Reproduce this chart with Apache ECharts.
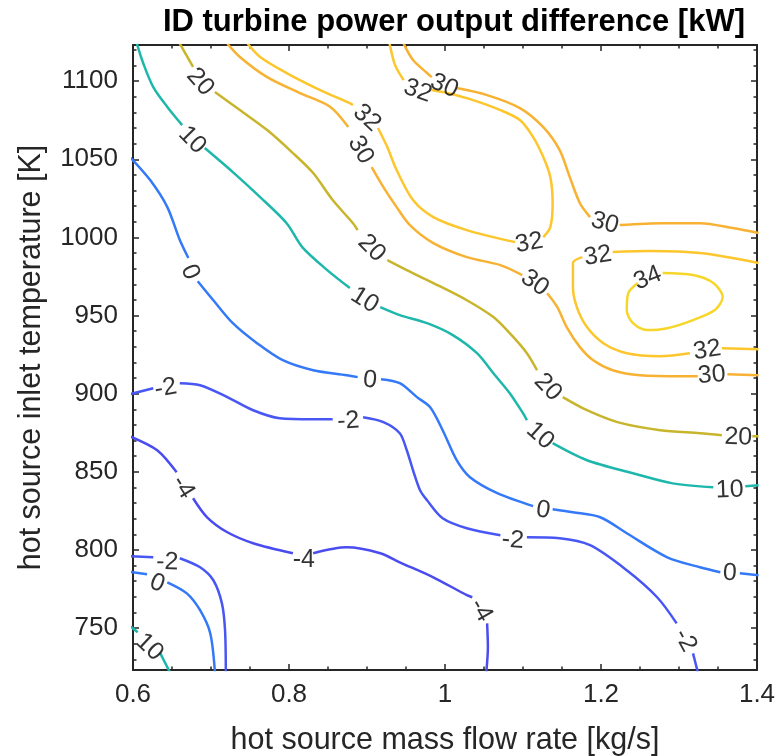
<!DOCTYPE html>
<html>
<head>
<meta charset="utf-8">
<script src="https://cdn.jsdelivr.net/npm/echarts@6/dist/echarts.min.js"></script>
<style>
  html, body { margin: 0; padding: 0; background: #ffffff; }
  #chart { width: 781px; height: 756px; }
</style>
</head>
<body>
<div id="chart"></div>
<script>
// Axis ticks
const xTicks = [0.6, 0.8, 1.0, 1.2, 1.4];
const xTickLabels = ['0.6', '0.8', '1', '1.2', '1.4'];
const yTicks = [750, 800, 850, 900, 950, 1000, 1050, 1100];
const yTickLabels = ['750', '800', '850', '900', '950', '1000', '1050', '1100'];
const yRange = [723.15, 1123.15];

// Contour lines [mass flow kg/s, temperature K]; each line is split into
// pieces, and a label sits in every gap between consecutive pieces.
const c10Upper = [
  [[0.605, 1124], [0.613, 1111.6], [0.626, 1096.2], [0.644, 1083.5], [0.663, 1071.9]],
  [[0.692, 1057.2], [0.728, 1041.8], [0.763, 1025.8], [0.797, 1009.1], [0.817, 993.8], [0.849, 979.1], [0.878, 967.6]],
  [[0.917, 955.4], [0.942, 950.3], [0.977, 945.1], [1.010, 937.5], [1.041, 925.9], [1.062, 913.1], [1.083, 900.3], [1.100, 887.5], [1.105, 883.0]],
  [[1.138, 868.3], [1.182, 857.4], [1.241, 849.1], [1.292, 842.6], [1.344, 840.1]],
  [[1.385, 840.8], [1.402, 841.4]]
];
const c10UpperLabels = [[0.676, 1062.3], [0.897, 959.8], [1.122, 873.0], [1.365, 838.2]];

const c20 = [
  [[0.660, 1124], [0.677, 1109.1]],
  [[0.705, 1093.1], [0.737, 1081.5], [0.772, 1068.7], [0.805, 1054.0], [0.831, 1041.2], [0.856, 1023.9], [0.882, 1009.1], [0.888, 1004.7]],
  [[0.926, 985.5], [0.951, 979.1], [0.985, 970.8], [1.028, 959.8], [1.062, 949.0], [1.083, 938.7], [1.105, 925.9], [1.118, 915.0]],
  [[1.151, 897.8], [1.182, 889.4], [1.221, 881.8], [1.276, 876.6], [1.327, 874.7], [1.355, 873.4]],
  [[1.394, 872.8], [1.402, 872.8]]
];
const c20Labels = [[0.686, 1099.5], [0.906, 993.1], [1.132, 904.1], [1.376, 872.1]];

const c30Lower = [
  [[0.721, 1124], [0.737, 1115.5], [0.772, 1102.6], [0.814, 1092.4], [0.853, 1083.5], [0.876, 1070.6]],
  [[0.906, 1045.0], [0.921, 1032.2], [0.938, 1019.4], [0.955, 1007.9], [0.985, 996.4], [1.028, 987.4], [1.071, 982.3], [1.099, 975.9]],
  [[1.131, 964.3], [1.144, 955.4], [1.156, 942.6], [1.173, 929.8], [1.190, 921.4], [1.215, 915.0], [1.250, 911.8], [1.305, 911.2], [1.324, 911.2]],
  [[1.362, 912.5], [1.402, 911.8]]
];
const c30LowerLabels = [[0.892, 1055.9], [1.115, 970.8], [1.342, 911.8]];

const c32Upper = [
  [[0.747, 1124], [0.763, 1115.5], [0.797, 1105.2], [0.840, 1094.3], [0.878, 1086.0], [0.882, 1084.7]],
  [[0.914, 1070.0], [0.926, 1057.8], [0.938, 1043.1], [0.959, 1023.9], [0.985, 1013.0], [1.028, 1004.7], [1.090, 997.0]],
  [[1.126, 1000.2], [1.135, 1006.6], [1.138, 1021.9], [1.135, 1038.6], [1.126, 1051.4], [1.113, 1064.2], [1.096, 1075.1], [1.071, 1081.5], [1.036, 1087.9], [1.003, 1092.4], [0.983, 1094.3]],
  [[0.947, 1100.7], [0.936, 1110.3], [0.929, 1124]]
];
const c32UpperLabels = [[0.900, 1076.4], [1.108, 996.4], [0.965, 1093.7]];

const c30Upper = [
  [[0.947, 1124], [0.959, 1113.5], [0.977, 1105.2], [0.983, 1102.6]],
  [[1.015, 1095.6], [1.054, 1091.1], [1.096, 1082.8], [1.126, 1070.6], [1.147, 1055.9], [1.160, 1038.6], [1.173, 1021.9], [1.186, 1013.0]],
  [[1.224, 1007.9], [1.279, 1009.1], [1.327, 1009.1], [1.369, 1006.0], [1.402, 1002.8]]
];
const c30UpperLabels = [[0.999, 1096.9], [1.205, 1009.1]];

const c32Right = [
  [[1.402, 983.6], [1.327, 990.0], [1.263, 991.3], [1.215, 990.6]],
  [[1.176, 987.4], [1.164, 983.6], [1.164, 968.2], [1.169, 955.4], [1.182, 942.6], [1.203, 932.3], [1.233, 925.9], [1.276, 924.0], [1.314, 925.9]],
  [[1.355, 929.1], [1.402, 928.5]]
];
const c32RightLabels = [[1.196, 988.1], [1.336, 927.8]];

// closed loop: its label sits between the last and the first point
const c34 = [
  [[1.279, 977.2], [1.318, 975.9], [1.344, 970.8], [1.356, 961.8], [1.346, 953.5], [1.318, 947.1], [1.285, 941.9], [1.259, 940.7], [1.241, 945.1], [1.233, 953.5], [1.235, 964.3], [1.247, 970.8]]
];
const c34Labels = [[1.260, 973.9]];

const c0Upper = [
  [[0.597, 1051.0], [0.622, 1036.7], [0.644, 1019.4], [0.660, 998.3], [0.671, 986.8]],
  [[0.683, 972.0], [0.703, 959.8], [0.728, 945.1], [0.759, 932.3], [0.792, 921.4], [0.831, 915.0], [0.874, 911.8], [0.888, 910.6]],
  [[0.918, 909.3], [0.942, 906.7], [0.964, 897.8], [0.981, 891.3], [0.997, 876.6], [1.015, 857.4], [1.032, 846.5], [1.067, 836.3], [1.113, 828.0]],
  [[1.138, 826.0], [1.164, 824.1], [1.199, 820.9], [1.233, 810.7], [1.285, 795.3], [1.327, 788.9], [1.353, 785.7]],
  [[1.378, 785.1], [1.402, 783.8]]
];
const c0UpperLabels = [[0.673, 977.8], [0.904, 908.6], [1.126, 825.4], [1.365, 785.1]];

const cM2Upper = [
  [[0.597, 899.8], [0.626, 903.5]],
  [[0.660, 906.7], [0.686, 905.4], [0.721, 897.8], [0.754, 889.4], [0.788, 884.3], [0.831, 883.6], [0.856, 883.6]],
  [[0.895, 884.9], [0.921, 881.8], [0.942, 874.7], [0.951, 863.8], [0.959, 851.0], [0.968, 838.2], [0.977, 831.8], [0.997, 820.3], [1.028, 813.9], [1.071, 809.4]],
  [[1.105, 808.1], [1.147, 807.5], [1.186, 803.0], [1.233, 787.0], [1.272, 769.7], [1.297, 753.0]],
  [[1.318, 733.8], [1.324, 722]]
];
const cM2UpperLabels = [[0.642, 903.5], [0.876, 882.4], [1.087, 806.2], [1.308, 742.1]];

const cM4 = [
  [[0.597, 872.5], [0.631, 863.8], [0.656, 849.7]],
  [[0.677, 833.1], [0.695, 820.9], [0.721, 811.3], [0.754, 804.3], [0.805, 797.9]],
  [[0.831, 797.9], [0.874, 801.7], [0.917, 797.9], [0.942, 792.1], [0.985, 782.5], [1.028, 771.0], [1.035, 769.7]],
  [[1.054, 753.0], [1.055, 737.7], [1.053, 722]]
];
const cM4Labels = [[0.664, 840.1], [0.819, 793.4], [1.046, 761.4]];

const cM2Lower = [
  [[0.597, 796.0], [0.626, 795.3]],
  [[0.660, 794.7], [0.686, 788.9], [0.703, 780.6], [0.714, 765.8], [0.718, 748.6], [0.719, 722]]
];
const cM2LowerLabels = [[0.644, 792.1]];

const c0Lower = [
  [[0.597, 785.9], [0.618, 784.4]],
  [[0.644, 779.3], [0.669, 772.2], [0.686, 761.4], [0.699, 746.7], [0.705, 722]]
];
const c0LowerLabels = [[0.631, 778.6]];

const c10Lower = [
  [[0.597, 751.0], [0.606, 747.3]],
  [[0.635, 733.8], [0.647, 722]]
];
const c10LowerLabels = [[0.621, 737.7]];

// Line colour for each level
const levelColor = {
  '-4': '#4a4cef',
  '-2': '#4857f4',
  '0': '#3479f8',
  '10': '#1eb7ab',
  '20': '#c8b52c',
  '30': '#f8b233',
  '32': '#fcc62c',
  '34': '#f7d62a'
};

const contours = [
  { level: 10, pieces: c10Upper, labels: c10UpperLabels },
  { level: 20, pieces: c20, labels: c20Labels },
  { level: 30, pieces: c30Lower, labels: c30LowerLabels },
  { level: 32, pieces: c32Upper, labels: c32UpperLabels },
  { level: 30, pieces: c30Upper, labels: c30UpperLabels },
  { level: 32, pieces: c32Right, labels: c32RightLabels },
  { level: 34, pieces: c34, labels: c34Labels },
  { level: 0, pieces: c0Upper, labels: c0UpperLabels },
  { level: -2, pieces: cM2Upper, labels: cM2UpperLabels },
  { level: -4, pieces: cM4, labels: cM4Labels },
  { level: -2, pieces: cM2Lower, labels: cM2LowerLabels },
  { level: 0, pieces: c0Lower, labels: c0LowerLabels },
  { level: 10, pieces: c10Lower, labels: c10LowerLabels }
];

const FONT = '"Liberation Sans", Arial, Helvetica, sans-serif';
const AXIS_COLOR = '#262626';

function tickText(ticks, labels) {
  return function (v) {
    for (let i = 0; i < ticks.length; i++) {
      if (Math.abs(v - ticks[i]) < 1e-6) return labels[i];
    }
    return '';
  };
}

function axisCommon() {
  return {
    axisLine: { show: true, onZero: false, lineStyle: { color: AXIS_COLOR, width: 2 } },
    axisTick: { show: true, inside: true, length: 6, lineStyle: { color: AXIS_COLOR, width: 1.5 } },
    minorTick: { show: true, length: 3.5, lineStyle: { color: AXIS_COLOR, width: 1.5 } },
    splitLine: { show: false },
    minorSplitLine: { show: false }
  };
}

const xBase = {
  type: 'value',
  min: xTicks[0],
  max: xTicks[xTicks.length - 1],
  interval: 0.2
};
const yBase = {
  type: 'value',
  min: yRange[0],
  max: yRange[1],
  minInterval: 50,
  maxInterval: 50
};

const xAxes = [
  Object.assign({}, xBase, axisCommon(), {
    position: 'bottom',
    minorTick: Object.assign(axisCommon().minorTick, { splitNumber: 4 }),
    axisLabel: { show: true, fontSize: 26, color: AXIS_COLOR, fontFamily: FONT, margin: 12,
                 formatter: tickText(xTicks, xTickLabels) },
    name: 'hot source mass flow rate [kg/s]',
    nameLocation: 'middle',
    nameGap: 55,
    nameTextStyle: { fontSize: 30.5, color: AXIS_COLOR, fontFamily: FONT }
  }),
  Object.assign({}, xBase, axisCommon(), {
    position: 'top',
    minorTick: Object.assign(axisCommon().minorTick, { splitNumber: 4 }),
    axisLabel: { show: false }
  })
];

const yAxes = [
  Object.assign({}, yBase, axisCommon(), {
    position: 'left',
    minorTick: Object.assign(axisCommon().minorTick, { splitNumber: 5 }),
    axisLabel: { show: true, fontSize: 26, color: AXIS_COLOR, fontFamily: FONT, margin: 15,
                 formatter: tickText(yTicks, yTickLabels) },
    name: 'hot source inlet temperature [K]',
    nameLocation: 'middle',
    nameGap: 86,
    nameTextStyle: { fontSize: 30.5, color: AXIS_COLOR, fontFamily: FONT }
  }),
  Object.assign({}, yBase, axisCommon(), {
    position: 'right',
    minorTick: Object.assign(axisCommon().minorTick, { splitNumber: 5 }),
    axisLabel: { show: false }
  })
];

// one line series for every visible piece of every contour
const lineSeries = [];
contours.forEach(function (c) {
  c.pieces.forEach(function (piece) {
    lineSeries.push({
      type: 'line',
      xAxisIndex: 0,
      yAxisIndex: 0,
      data: piece,
      symbol: 'none',
      smooth: 0.3,
      clip: true,
      silent: true,
      lineStyle: { color: levelColor[String(c.level)], width: 2.5 },
      z: 2
    });
  });
});

const chart = echarts.init(document.getElementById('chart'), null, { renderer: 'canvas' });
chart.setOption({
  animation: false,
  backgroundColor: '#ffffff',
  title: {
    text: 'ID turbine power output difference [kW]',
    right: 31,
    top: 2,
    textStyle: { fontSize: 31, fontWeight: 'bold', color: '#000000', fontFamily: FONT }
  },
  grid: { left: 133, right: 24, top: 45, bottom: 86, containLabel: false, outerBoundsMode: 'none' },
  xAxis: xAxes,
  yAxis: yAxes,
  series: lineSeries
});

// Inline labels: placed in the gaps and turned along the local line direction
const labelItems = [];
contours.forEach(function (c) {
  const n = c.pieces.length;
  c.labels.forEach(function (pt, i) {
    const a = c.pieces[i][c.pieces[i].length - 1];
    const b = c.pieces[(i + 1) % n][0];
    const pa = chart.convertToPixel({ xAxisIndex: 0, yAxisIndex: 0 }, a);
    const pb = chart.convertToPixel({ xAxisIndex: 0, yAxisIndex: 0 }, b);
    let ang = Math.atan2(-(pb[1] - pa[1]), pb[0] - pa[0]) * 180 / Math.PI;
    if (ang > 90) ang -= 180;
    if (ang < -90) ang += 180;
    labelItems.push({
      value: pt,
      name: String(c.level),
      label: { rotate: ang }
    });
  });
});

chart.setOption({
  series: lineSeries.concat([{
    type: 'scatter',
    xAxisIndex: 0,
    yAxisIndex: 0,
    data: labelItems,
    symbolSize: 0,
    silent: true,
    z: 5,
    label: {
      show: true,
      position: 'inside',
      formatter: function (p) { return p.name; },
      fontSize: 25,
      color: '#000000',
      fontFamily: FONT,
      align: 'center',
      verticalAlign: 'middle'
    }
  }])
});
</script>
</body>
</html>
